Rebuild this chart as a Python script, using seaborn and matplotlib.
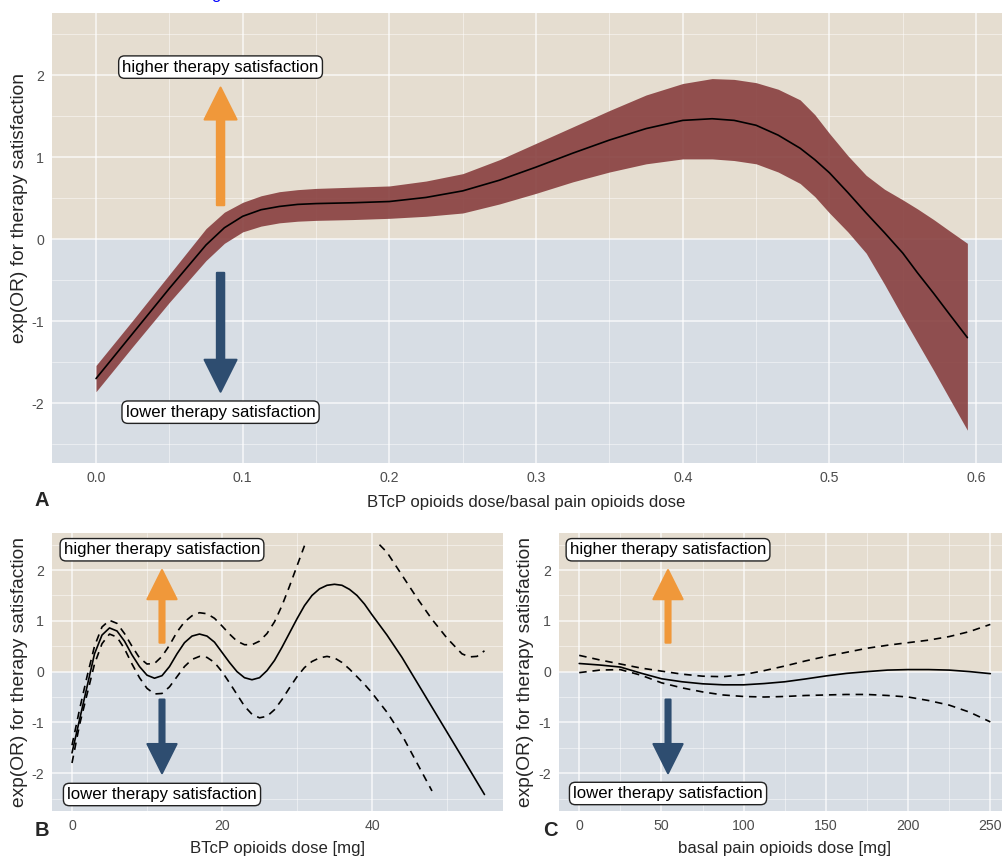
import numpy as np
import pandas as pd
import matplotlib
matplotlib.use("Agg")
import matplotlib.pyplot as plt
import seaborn as sns
from matplotlib.patches import FancyArrowPatch, ArrowStyle

# ---------------- data ----------------
# Panel A: ratio BTcP / basal dose
a_x = [0.0, 0.025, 0.05, 0.075, 0.0875, 0.1, 0.1125, 0.125, 0.1375, 0.15, 0.175, 0.2, 0.225,
       0.25, 0.275, 0.3, 0.325, 0.35, 0.375, 0.4, 0.42, 0.435, 0.45, 0.465, 0.48, 0.49, 0.5,
       0.5125, 0.525, 0.5375, 0.55, 0.56, 0.571, 0.582, 0.594]
a_fit = [-1.70, -1.15, -0.60, -0.07, 0.14, 0.28, 0.36, 0.40, 0.425, 0.435, 0.445, 0.46, 0.51,
         0.59, 0.72, 0.88, 1.05, 1.21, 1.35, 1.45, 1.47, 1.45, 1.39, 1.27, 1.11, 0.97, 0.81,
         0.57, 0.32, 0.08, -0.17, -0.41, -0.66, -0.92, -1.20]
a_upper = [-1.54, -0.99, -0.43, 0.13, 0.33, 0.45, 0.53, 0.58, 0.605, 0.62, 0.635, 0.65, 0.71,
           0.80, 0.97, 1.17, 1.37, 1.57, 1.76, 1.90, 1.96, 1.95, 1.91, 1.83, 1.70, 1.52, 1.29,
           1.02, 0.78, 0.61, 0.48, 0.37, 0.24, 0.10, -0.05]
a_lower = [-1.86, -1.31, -0.77, -0.26, -0.05, 0.09, 0.16, 0.20, 0.22, 0.23, 0.24, 0.255, 0.28,
           0.32, 0.43, 0.56, 0.70, 0.82, 0.92, 0.98, 0.98, 0.96, 0.92, 0.82, 0.68, 0.52, 0.32,
           0.09, -0.17, -0.55, -0.95, -1.26, -1.60, -1.95, -2.33]

# Panel B: BTcP opioids dose [mg]
b_fit_x = list(range(0, 41)) + [42, 44, 46, 48, 50, 52, 55]
b_fit = [-1.6, -0.95, -0.3, 0.35, 0.72, 0.86, 0.8, 0.6, 0.33, 0.1, -0.07, -0.13, -0.08, 0.1,
         0.35, 0.57, 0.7, 0.74, 0.7, 0.58, 0.38, 0.18, 0.0, -0.12, -0.16, -0.12, 0.02, 0.22,
         0.48, 0.76, 1.04, 1.3, 1.5, 1.63, 1.7, 1.72, 1.7, 1.62, 1.5, 1.33, 1.12,
         0.72, 0.28, -0.21, -0.70, -1.19, -1.68, -2.42]
b_up1_x = list(range(0, 32))
b_up1 = [-1.45, -0.75, -0.1, 0.5, 0.88, 1.01, 0.95, 0.75, 0.5, 0.27, 0.15, 0.16, 0.3, 0.52,
         0.78, 0.98, 1.1, 1.16, 1.14, 1.05, 0.9, 0.74, 0.6, 0.53, 0.53, 0.6, 0.75, 0.98, 1.3,
         1.68, 2.08, 2.48]
b_up2_x = [41, 42, 44, 46, 48, 50, 52, 53, 54, 55]
b_up2 = [2.5, 2.35, 1.9, 1.45, 1.03, 0.66, 0.35, 0.29, 0.3, 0.41]
b_low_x = list(range(0, 41)) + [42, 44, 46, 48]
b_low = [-1.8, -1.05, -0.45, 0.15, 0.55, 0.74, 0.68, 0.45, 0.15, -0.12, -0.33, -0.44, -0.43,
         -0.3, -0.1, 0.1, 0.24, 0.3, 0.28, 0.18, 0.0, -0.22, -0.45, -0.68, -0.84, -0.91, -0.88,
         -0.75, -0.55, -0.32, -0.1, 0.08, 0.2, 0.27, 0.3, 0.27, 0.18, 0.05, -0.1, -0.25, -0.42,
         -0.8, -1.25, -1.8, -2.35]

# Panel C: basal pain opioids dose [mg]
c_x = [0, 12.5, 25, 37.5, 50, 62.5, 75, 87.5, 100, 112.5, 125, 137.5, 150, 162.5, 175,
       187.5, 200, 212.5, 225, 237.5, 250]
c_fit = [0.16, 0.13, 0.09, -0.03, -0.14, -0.20, -0.24, -0.26, -0.26, -0.235, -0.20, -0.145,
         -0.085, -0.035, 0.0, 0.03, 0.04, 0.04, 0.03, 0.0, -0.04]
c_upper = [0.32, 0.23, 0.15, 0.07, 0.01, -0.05, -0.09, -0.10, -0.06, 0.02, 0.11, 0.21, 0.30,
           0.38, 0.46, 0.52, 0.57, 0.62, 0.69, 0.79, 0.93]
c_lower = [-0.02, 0.03, 0.04, -0.07, -0.22, -0.32, -0.40, -0.46, -0.49, -0.50, -0.49, -0.47,
           -0.46, -0.45, -0.45, -0.47, -0.50, -0.57, -0.66, -0.80, -0.99]

y_ticks = [-2, -1, 0, 1, 2]
a_xticks = [0.0, 0.1, 0.2, 0.3, 0.4, 0.5, 0.6]
b_xticks = [0, 20, 40]
c_xticks = [0, 50, 100, 150, 200, 250]

label_hi = "higher therapy satisfaction"
label_lo = "lower therapy satisfaction"
y_title = "exp(OR) for therapy satisfaction"
a_title = "BTcP opioids dose/basal pain opioids dose"
b_title = "BTcP opioids dose [mg]"
c_title = "basal pain opioids dose [mg]"

# ---------------- style ----------------
sns.set_style("white")
FONT = ["Liberation Sans", "DejaVu Sans"]
plt.rcParams["font.family"] = FONT

BEIGE = "#E5DDD0"
BLUEG = "#D7DDE4"
RIBBON = "#883F3F"
ORANGE = "#F0983A"
NAVY = "#2E4D70"
W, H = 1002, 859
TXT = 12.1      # horizontal titles / box text
TICK = 10.2     # tick labels
YT = 13.8       # rotated axis titles

fig = plt.figure(figsize=(W / 100, H / 100), dpi=100)


def fx(px):
    return px / W


def fy(py):
    return 1 - py / H


def make_ax(left, top, right, bottom, xlim, ylim, xticks, xminor, xticklabels):
    ax = fig.add_axes([fx(left), fy(bottom), fx(right - left), (bottom - top) / H])
    ax.set_xlim(*xlim)
    ax.set_ylim(*ylim)
    ax.axhspan(0, ylim[1], color=BEIGE, lw=0, zorder=0)
    ax.axhspan(ylim[0], 0, color=BLUEG, lw=0, zorder=0)
    ax.set_axisbelow(True)
    ax.set_xticks(xticks)
    ax.set_xticklabels(xticklabels)
    ax.set_yticks(y_ticks)
    ax.set_yticklabels([str(v) for v in y_ticks])
    ax.set_xticks(xminor, minor=True)
    ax.set_yticks([-2.5, -1.5, -0.5, 0.5, 1.5, 2.5], minor=True)
    ax.grid(which="major", color="white", alpha=0.8, lw=1.1)
    ax.grid(which="minor", color="white", alpha=0.6, lw=0.55)
    ax.tick_params(which="major", length=3, width=0.9, color="#333333",
                   labelcolor="#4D4D4D", labelsize=TICK, pad=2.5)
    ax.tick_params(which="minor", length=0)
    for s in ax.spines.values():
        s.set_visible(False)
    return ax


def arrows(ax, x, up, down, hl, hw, tw):
    for (y0, y1), col in zip([up, down], [ORANGE, NAVY]):
        st = ArrowStyle.Simple(head_length=hl, head_width=hw, tail_width=tw)
        p = FancyArrowPatch((x, y0), (x, y1), arrowstyle=st, mutation_scale=1,
                            fc=col, ec=col, lw=1.5, joinstyle="round",
                            shrinkA=0, shrinkB=0, zorder=4)
        ax.add_patch(p)


def boxes(ax, x, yhi, ylo):
    for y, t in [(yhi, label_hi), (ylo, label_lo)]:
        ax.text(x, y, t, ha="center", va="center", fontsize=TXT, color="black", zorder=6,
                bbox=dict(boxstyle="round,pad=0.22,rounding_size=0.35", fc="white",
                          ec="#222222", lw=1.0))


def finish(ax):
    ax.set_xlabel("")
    ax.set_ylabel("")


# ---------------- Panel A ----------------
axA = make_ax(52, 13, 1002, 463, (-0.030, 0.6176), (-2.73, 2.76), a_xticks,
              [0.05, 0.15, 0.25, 0.35, 0.45, 0.55], [f"{v:.1f}" for v in a_xticks])
dfA = pd.DataFrame({"x": a_x, "fit": a_fit, "lo": a_lower, "hi": a_upper})
axA.fill_between(dfA["x"], dfA["lo"], dfA["hi"], color=RIBBON, alpha=0.9, lw=0, zorder=2)
sns.lineplot(data=dfA, x="x", y="fit", ax=axA, color="black", lw=1.2, zorder=3)
arrows(axA, 0.0849, (0.415, 1.85), (-0.41, -1.86), 23, 23, 5.3)
boxes(axA, 0.0849, 2.10, -2.11)
finish(axA)

# ---------------- Panel B ----------------
axB = make_ax(52, 533, 503, 811, (-2.667, 57.47), (-2.745, 2.73), b_xticks,
              [10, 30, 50], [str(v) for v in b_xticks])
dfB_fit = pd.DataFrame({"x": b_fit_x, "y": b_fit})
dfB_up = pd.DataFrame({"x": b_up1_x + b_up2_x, "y": b_up1 + b_up2,
                       "seg": [1] * len(b_up1_x) + [2] * len(b_up2_x)})
dfB_lo = pd.DataFrame({"x": b_low_x, "y": b_low, "seg": 1})
arrows(axB, 12.0, (0.57, 2.0), (-0.55, -2.0), 21, 21, 3.6)
sns.lineplot(data=dfB_fit, x="x", y="y", ax=axB, color="black", lw=1.2, zorder=3)
sns.lineplot(data=dfB_up, x="x", y="y", units="seg", estimator=None, ax=axB,
             color="black", lw=1.2, linestyle=(0, (4.5, 3.5)), zorder=3)
sns.lineplot(data=dfB_lo, x="x", y="y", units="seg", estimator=None, ax=axB,
             color="black", lw=1.2, linestyle=(0, (4.5, 3.5)), zorder=3)
boxes(axB, 12.0, 2.40, -2.42)
finish(axB)

# ---------------- Panel C ----------------
axC = make_ax(559, 533, 1002, 811, (-12.3, 257.1), (-2.745, 2.73), c_xticks,
              [25, 75, 125, 175, 225], [str(v) for v in c_xticks])
dfC = pd.DataFrame({"x": c_x, "fit": c_fit, "hi": c_upper, "lo": c_lower})
arrows(axC, 54.0, (0.57, 2.0), (-0.55, -2.0), 21, 21, 3.6)
sns.lineplot(data=dfC, x="x", y="fit", ax=axC, color="black", lw=1.2, zorder=3)
sns.lineplot(data=dfC, x="x", y="hi", ax=axC, color="black", lw=1.2,
             linestyle=(0, (4.5, 3.5)), zorder=3)
sns.lineplot(data=dfC, x="x", y="lo", ax=axC, color="black", lw=1.2,
             linestyle=(0, (4.5, 3.5)), zorder=3)
boxes(axC, 54.0, 2.40, -2.40)
finish(axC)

# ---------------- titles, panel letters ----------------
fig.text(fx(526), fy(503), a_title, ha="center", va="center", fontsize=TXT)
fig.text(fx(278), fy(848), b_title, ha="center", va="center", fontsize=TXT)
fig.text(fx(785), fy(848), c_title, ha="center", va="center", fontsize=TXT)
fig.text(fx(20), fy(208), y_title, ha="center", va="center", rotation=90, fontsize=YT)
fig.text(fx(20), fy(672), y_title, ha="center", va="center", rotation=90, fontsize=YT)
fig.text(fx(525), fy(672), y_title, ha="center", va="center", rotation=90, fontsize=YT)
for t, (px, py) in zip(["A", "B", "C"], [(42, 500), (42, 830), (550, 830)]):
    fig.text(fx(px), fy(py), t, ha="center", va="center", fontsize=14.5,
             fontweight="bold")

# fragment of a blue caption line cut off at the top edge
fig.text(fx(216), 1 + 1.0 / H, "g", ha="center", va="baseline", fontsize=12,
         color="#0000FF")

fig.savefig("out.png", dpi=100)
